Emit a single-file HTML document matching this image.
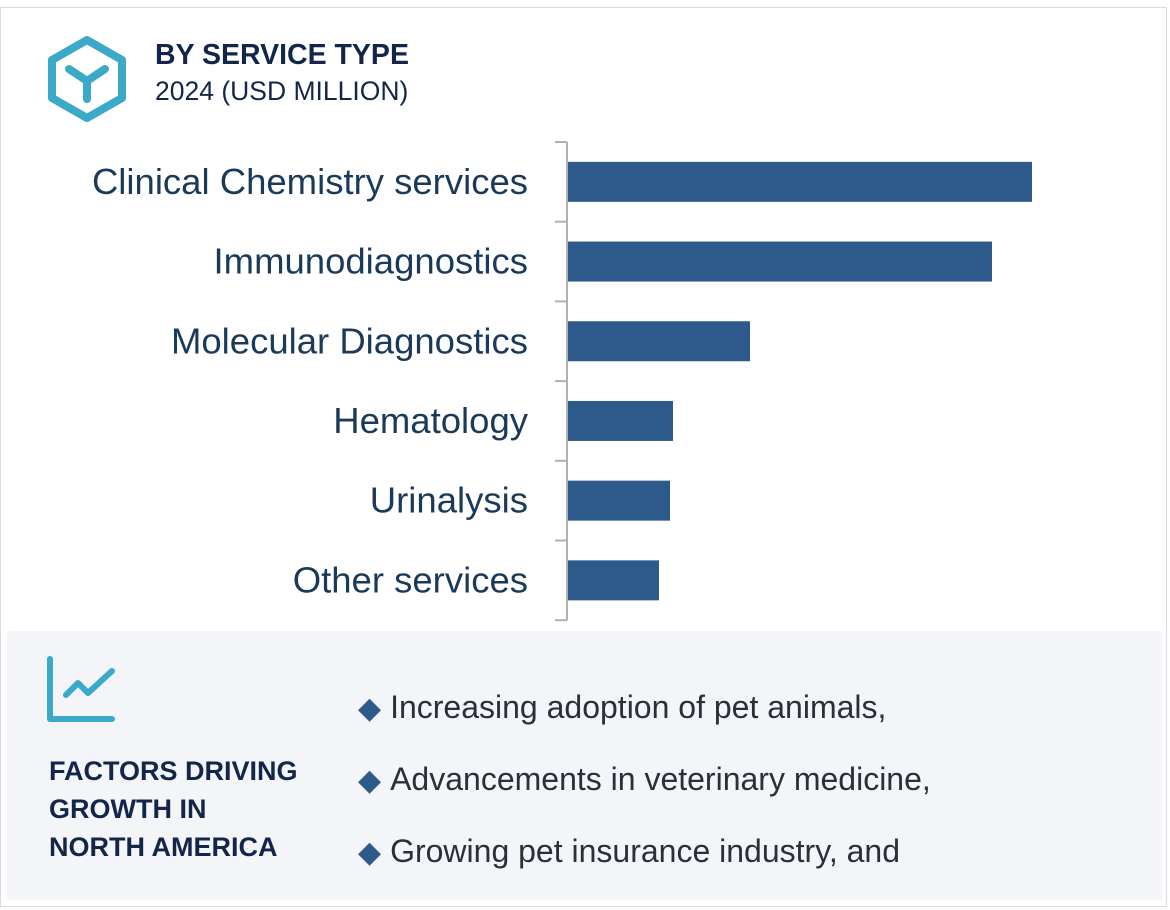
<!DOCTYPE html>
<html><head><meta charset="utf-8"><style>
body{margin:0;width:1170px;height:910px;background:#fff;font-family:"Liberation Sans",sans-serif;position:relative;overflow:hidden}
.frame{position:absolute;left:0;top:7px;width:1167px;height:900px;border:1px solid #d9dbe0;box-sizing:border-box}
.panel{position:absolute;left:7px;top:631px;width:1155px;height:269px;background:#f3f5f9}
.t1{position:absolute;left:155px;top:39px;font-size:28.5px;font-weight:bold;color:#13264a}
.t2{position:absolute;left:155px;top:76px;font-size:26.5px;color:#13264a}
.f{position:absolute;left:49px;top:752px;font-size:27px;font-weight:bold;color:#13264a;line-height:38px}
.b{position:absolute;left:358px;font-size:32px;color:#2a2f38;white-space:nowrap}
.b span{color:#2d5a8a;font-size:30px;margin-right:9px}
</style></head><body>
<div class="frame"></div>
<svg style="position:absolute;left:46px;top:36px" width="82" height="86">
<polygon points="41,4 76,24 76,62 41,82 6,62 6,24" fill="none" stroke="#3ba9c8" stroke-width="8" stroke-linejoin="round"/>
<path d="M23,33 L41,45 L59,33 M41,45 L41,63" fill="none" stroke="#3ba9c8" stroke-width="8" stroke-linecap="round"/>
</svg>
<div class="t1">BY SERVICE TYPE</div>
<div class="t2">2024 (USD MILLION)</div>
<svg id="chart" style="position:absolute;left:0;top:0" width="1170" height="630"></svg>
<div class="panel"></div>
<svg style="position:absolute;left:46px;top:655px" width="72" height="70">
<path d="M4,4 L4,64 L66,64" fill="none" stroke="#3ba9c8" stroke-width="6" stroke-linecap="round" stroke-linejoin="round"/>
<path d="M20,40 L32,28 L42,38 L66,16" fill="none" stroke="#3ba9c8" stroke-width="6" stroke-linecap="round" stroke-linejoin="round"/>
</svg>
<div class="f">FACTORS DRIVING<br>GROWTH IN<br>NORTH AMERICA</div>
<div class="b" style="top:689px"><span>◆</span>Increasing adoption of pet animals,</div>
<div class="b" style="top:761px"><span>◆</span>Advancements in veterinary medicine,</div>
<div class="b" style="top:833px"><span>◆</span>Growing pet insurance industry, and</div>
<script>
const categories=["Clinical Chemistry services","Immunodiagnostics","Molecular Diagnostics","Hematology","Urinalysis","Other services"];
const values=[465,425,183,106,103,92];
const svg=document.getElementById('chart');const ns="http://www.w3.org/2000/svg";
const x0=567,xMax=500,pxW=500,y0=142,band=79.7;
const xs=v=>x0+v/xMax*pxW;
function mk(t,a){const e=document.createElementNS(ns,t);for(const k in a)e.setAttribute(k,a[k]);svg.appendChild(e);return e;}
const ax=mk('line',{x1:x0,y1:y0,x2:x0,y2:y0+band*6,stroke:'#b0b0b0','stroke-width':2});


for(let i=0;i<=6;i++){const t=mk('line',{x1:555,x2:x0,y1:y0+band*i,y2:y0+band*i,stroke:'#b0b0b0','stroke-width':2});

}
categories.forEach((c,i)=>{const cy=y0+band*(i+0.5);
const r=mk('rect',{x:x0+1,y:cy-20,width:xs(values[i])-x0-1,height:40,fill:'#2d5a8a'});


const t=mk('text',{x:528,y:cy+12,'text-anchor':'end','font-size':36.5,fill:'#1b3a5a','font-family':'Liberation Sans, sans-serif'});
t.textContent=c;

});
</script>
</body></html>
